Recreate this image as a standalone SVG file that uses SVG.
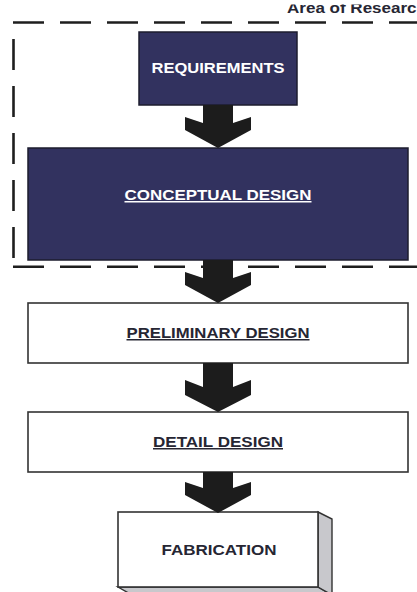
<svg xmlns="http://www.w3.org/2000/svg" width="417" height="592" viewBox="0 0 417 592">
<style>
.dash{fill:none;stroke:#1e1e1e;stroke-width:2.6;stroke-dasharray:31 16}
.navy{fill:#32325f;stroke:#1c1c2e;stroke-width:1.5}
.white{fill:#ffffff;stroke:#333;stroke-width:1.6}
.arrow{fill:#1c1c1c}
.lbl{font-family:"Liberation Sans",Arial,sans-serif;font-weight:bold;font-size:15px;text-anchor:middle}
.lw{fill:#ffffff}
.ld{fill:#262633}
</style>
<defs>
<clipPath id="topclip"><rect x="0" y="4.5" width="417" height="20"/></clipPath>
</defs>
<rect width="417" height="592" fill="#ffffff"/>
<g id="area">
<path class="dash" d="M13,22.5 H417"/>
<path class="dash" d="M13.5,39 V262"/>
<path class="dash" d="M13,266.7 H417"/>
<text class="lbl ld" x="287" y="13" clip-path="url(#topclip)" style="text-anchor:start;font-size:15px" textLength="140" lengthAdjust="spacingAndGlyphs">Area of Research</text>
</g>
<g id="requirements">
<rect class="navy" x="139" y="32" width="158" height="73"/>
<text class="lbl lw" x="218" y="73" textLength="133" lengthAdjust="spacingAndGlyphs">REQUIREMENTS</text>
</g>
<g id="conceptual">
<rect class="navy" x="28" y="148" width="380" height="112"/>
<text class="lbl lw" x="218" y="200" textLength="187" lengthAdjust="spacingAndGlyphs" text-decoration="underline">CONCEPTUAL DESIGN</text>
</g>
<g id="preliminary">
<rect class="white" x="28" y="303" width="380" height="60"/>
<text class="lbl ld" x="218" y="338" textLength="183" lengthAdjust="spacingAndGlyphs" text-decoration="underline">PRELIMINARY DESIGN</text>
</g>
<g id="detail">
<rect class="white" x="28" y="412" width="380" height="60"/>
<text class="lbl ld" x="218" y="447" textLength="130" lengthAdjust="spacingAndGlyphs" text-decoration="underline">DETAIL DESIGN</text>
</g>
<g id="fabrication">
<polygon points="118,587 318,587 332,595 132,595" fill="#c8c8cc" stroke="#333" stroke-width="1.4"/>
<polygon points="318,512 332,519 332,595 318,587" fill="#c8c8cc" stroke="#333" stroke-width="1.4"/>
<rect class="white" x="118" y="512" width="200" height="75"/>
<text class="lbl ld" x="219" y="555" textLength="115" lengthAdjust="spacingAndGlyphs">FABRICATION</text>
</g>
<g id="connectors">
<path class="arrow" d="M203,105 H233 V123 L251,117 V130 L218,148 L185,130 V117 L203,123 Z"/>
<path class="arrow" d="M203,260 H233 V278 L251,272 V285 L218,303 L185,285 V272 L203,278 Z"/>
<path class="arrow" d="M203,363 H233 V387 L251,380 V395 L218,412 L185,395 V380 L203,387 Z"/>
<path class="arrow" d="M203,472 H233 V488 L251,482 V495 L218,513 L185,495 V482 L203,488 Z"/>
</g>
</svg>
